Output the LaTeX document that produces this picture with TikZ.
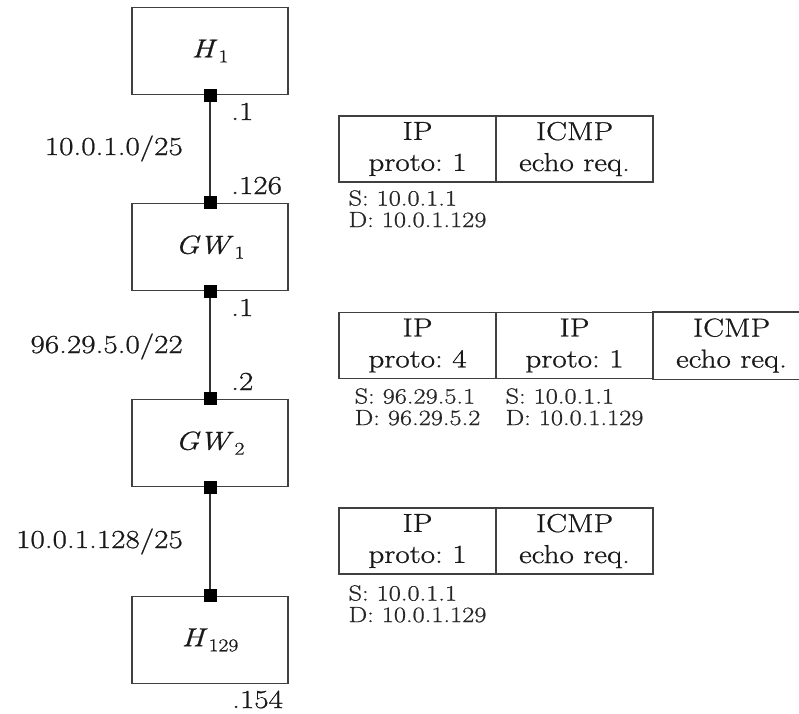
\documentclass[tikz,border=0pt]{standalone}
\usepackage{fontspec}
\setmainfont{Latin Modern Roman}[FakeStretch=1.2, FakeBold=0.8]
\frenchspacing
\newcommand{\hsub}[2]{{\itshape #1\/}\kern1pt\raisebox{-5pt}{\fontsize{18}{18}\selectfont #2}}
\begin{document}
\begin{tikzpicture}[x=1pt,y=-1pt,
  host/.style={draw=black!75, line width=1.6pt, minimum width=156pt, minimum height=87pt, inner sep=0pt, font=\fontsize{26}{30}\selectfont, text=black!90},
  port/.style={fill=black, minimum size=13pt, inner sep=0pt},
  link/.style={draw=black!80, line width=1.3pt},
  lbl/.style={font=\fontsize{26}{30}\selectfont, text=black!90, inner sep=0pt},
  cell/.style={draw=black!75, line width=1.6pt, minimum width=157pt, minimum height=66pt, inner sep=0pt, align=center, font=\fontsize{26}{31}\selectfont, text=black!90},
  cellline/.style={draw=black!75, line width=1.6pt},
  addr/.style={font=\fontsize{22}{21.5}\selectfont, align=left, inner sep=0pt, text=black!85}]
\useasboundingbox (0,0) rectangle (799,713);
\coordinate (edge) at (799,0);
% hosts
\node[host] (h1) at (210,51) {\hsub{H}{1}};
\node[host] (gw1) at (210,247) {\hsub{GW}{1}};
\node[host] (gw2) at (210,443) {\hsub{GW}{2}};
\node[host] (h129) at (210,640) {\hsub{H}{129}};
% ports
\node[port] (p1) at (h1.south) {};
\node[port] (p2) at (gw1.north) {};
\node[port] (p3) at (gw1.south) {};
\node[port] (p4) at (gw2.north) {};
\node[port] (p5) at (gw2.south) {};
\node[port] (p6) at (h129.north) {};
% links
\draw[link] (p1) -- (p2);
\draw[link] (p3) -- (p4);
\draw[link] (p5) -- (p6);
% address labels
\node[lbl, anchor=base west] (a1) at (231,120) {.1};
\node[lbl, anchor=base west] (a2) at (231,194) {.126};
\node[lbl, anchor=base west] (a3) at (231,316) {.1};
\node[lbl, anchor=base west] (a4) at (231,390) {.2};
\node[lbl, anchor=base west] (a5) at (232,708) {.154};
\node[lbl, anchor=base east] (n1) at (183,155) {10.0.1.0/25};
\node[lbl, anchor=base east] (n2) at (183,353) {96.29.5.0/22};
\node[lbl, anchor=base east] (n3) at (183,548) {10.0.1.128/25};
% packet 1
\node[cell] (t1) at (417.5,149) {IP\\proto: 1};
\node[cell] (t2) at (574.5,149) {ICMP\\echo req.};
\node[addr, anchor=north] (ta) at (417.5,190) {S: 10.0.1.1\\D: 10.0.1.129};
% packet 2
\node[cell] (m1) at (417.5,345.5) {IP\\proto: 4};
\node[cell] (m2) at (574.5,345.5) {IP\\proto: 1};
\node[cell, draw=none] (m3) at (731.5,345.5) {ICMP\\echo req.};
\draw[cellline] (m3.north west) -- (m3.north west -| edge);
\draw[cellline] (m3.south west) -- (m3.south west -| edge);
\node[addr, anchor=north] (ma) at (417.5,388) {S: 96.29.5.1\\D: 96.29.5.2};
\node[addr, anchor=north] (mb) at (574.5,388) {S: 10.0.1.1\\D: 10.0.1.129};
% packet 3
\node[cell] (b1) at (417.5,541) {IP\\proto: 1};
\node[cell] (b2) at (574.5,541) {ICMP\\echo req.};
\node[addr, anchor=north] (ba) at (417.5,585) {S: 10.0.1.1\\D: 10.0.1.129};
\end{tikzpicture}
\end{document}
